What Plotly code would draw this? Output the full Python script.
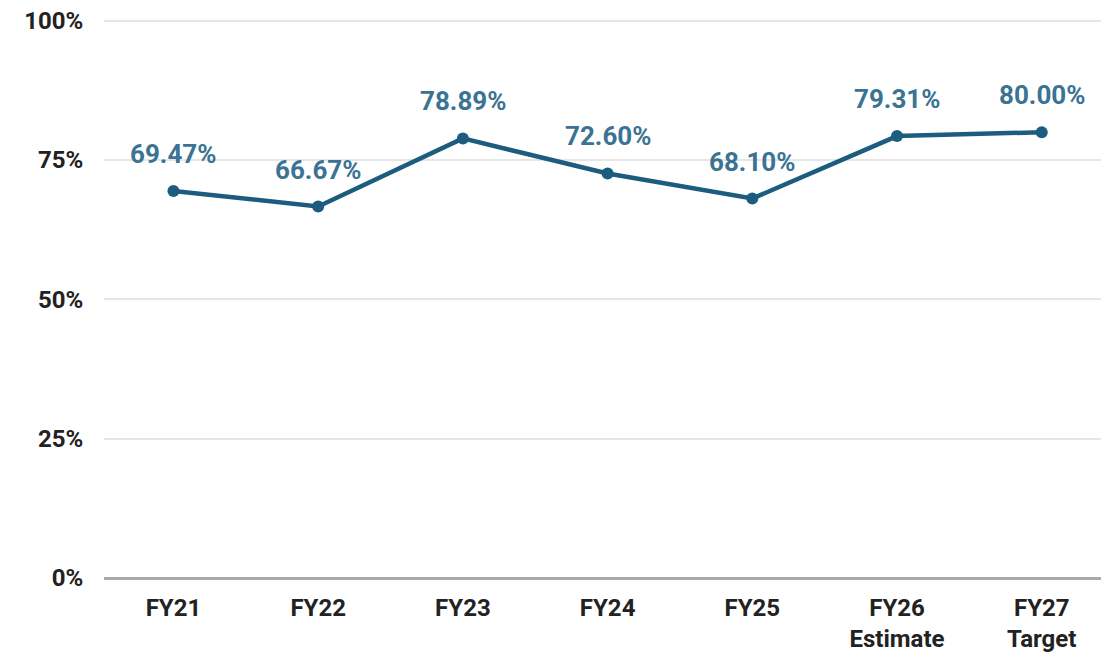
import plotly.graph_objects as go

categories = ["FY21", "FY22", "FY23", "FY24", "FY25", "FY26<br>Estimate", "FY27<br>Target"]
values = [69.47, 66.67, 78.89, 72.60, 68.10, 79.31, 80.00]
y_ticks = [0, 25, 50, 75, 100]
y_tick_labels = ["0%", "25%", "50%", "75%", "100%"]

line_color = "#1c5c7e"
label_color = "#3a7393"

fig = go.Figure()
fig.add_trace(go.Scatter(
    x=categories, y=values, mode="lines+markers",
    line=dict(color=line_color, width=4.5),
    marker=dict(color=line_color, size=12),
    hoverinfo="skip", showlegend=False,
))
for c, v in zip(categories, values):
    fig.add_annotation(x=c, y=v, text=f"<b>{v:.2f}%</b>", showarrow=False,
                       yshift=37, font=dict(family="Roboto", size=26, color=label_color))

fig.update_layout(
    width=1109, height=654,
    margin=dict(l=96, r=0, t=10, b=84),
    paper_bgcolor="white", plot_bgcolor="white",
    font=dict(family="Roboto", color="#222222"),
)
fig.update_xaxes(
    automargin=False, range=[-0.48, 6.52],
    showgrid=False, showline=False, ticks="outside", ticklen=8, tickcolor="rgba(0,0,0,0)",
    tickfont=dict(family="Roboto", size=24, color="#222222", weight="bold"),
)
fig.update_yaxes(
    automargin=False, ticklabeloverflow="allow",
    range=[0, 100.5], tickvals=y_ticks, ticktext=y_tick_labels,
    showgrid=True, gridcolor="#e6e6e6", gridwidth=2,
    zeroline=True, zerolinecolor="#aaaaaa", zerolinewidth=2.5,
    ticks="outside", ticklen=15, tickcolor="rgba(0,0,0,0)",
    tickfont=dict(family="Roboto", size=24, color="#222222", weight="bold"),
)
fig.write_html("out.html")
